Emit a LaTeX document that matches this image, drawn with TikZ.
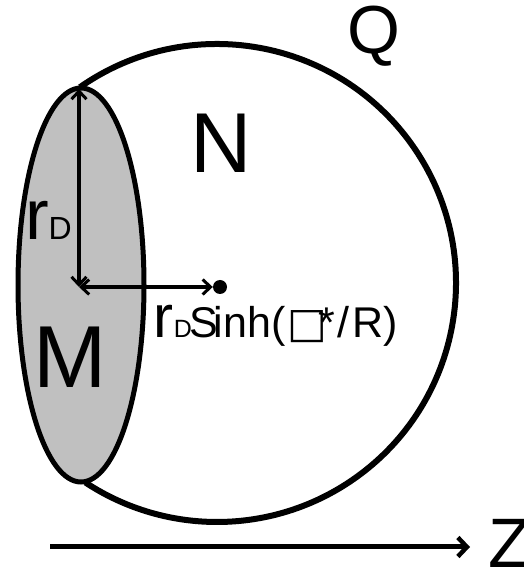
\documentclass[tikz,border=0pt]{standalone}
\usepackage{fontspec}
\setmainfont{Liberation Sans}
\newfontfamily\boxfont{DejaVu Sans}
\usetikzlibrary{arrows.meta}
\tikzset{
  outline/.style={line width=6pt},
  dimarrow/.style={line width=3.3pt,{Straight Barb[length=8pt,width=15pt,line width=3pt]}-{Straight Barb[length=8pt,width=15pt,line width=3pt]}},
  axisarrow/.style={line width=5pt,-{Straight Barb[length=9pt,width=19pt,line width=4.5pt]}},
  lbl/.style={anchor=base west,inner sep=0pt,outer sep=0pt}
}
\begin{document}
\begin{tikzpicture}[x=1pt,y=1pt]
\useasboundingbox (0,0) rectangle (523,568);
% big sphere Q (arc)
\coordinate (qc) at (217,285);
\draw[outline] (qc) ++(125:239) arc[start angle=125,end angle=-123.4,radius=239];
% disk M
\draw[line width=5pt,fill={rgb,255:red,192;green,192;blue,192}] (81,283) ellipse[x radius=63,y radius=197];
% dimension arrows
\coordinate (cen) at (79,281);
\coordinate (top) at (79,479);
\node[circle,fill=black,inner sep=0pt,minimum size=14pt] (dot) at (220,281) {};
\draw[dimarrow] (cen) -- (top);
\draw[dimarrow] (cen) -- (dot.west);
% axis
\coordinate (za) at (50,21);
\coordinate (zb) at (470,21);
\draw[axisarrow] (za) -- (zb);
% labels
\node[lbl] (Q) at (347,514) {\fontsize{68}{68}\selectfont Q};
\node[lbl] (N) at (190.5,395) {\fontsize{85}{85}\selectfont N};
\node[lbl] (M) at (33.5,180) {\fontsize{88}{88}\selectfont M};
\node[lbl] (Z) at (488,1) {\fontsize{70}{70}\selectfont Z};
\node[lbl] (rD) at (25,328) {\fontsize{71}{71}\selectfont r\fontsize{32}{32}\selectfont D};
\node[lbl] (rs) at (153,230) {\fontsize{60}{60}\selectfont r\kern1pt\fontsize{25}{25}\selectfont D\fontsize{43}{43}\selectfont \kern-3pt S\kern-4pt inh(\kern2pt{\boxfont\fontsize{42}{42}\selectfont □}\kern-9pt*\kern3pt/\kern3pt R)};
\end{tikzpicture}
\end{document}
